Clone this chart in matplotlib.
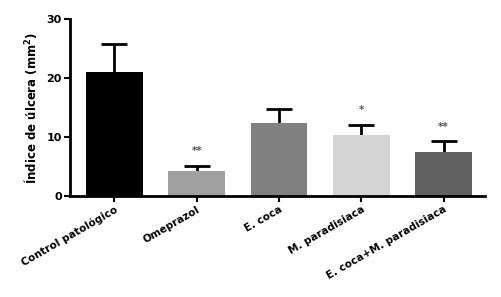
import matplotlib
matplotlib.use("Agg")
import matplotlib.pyplot as plt
import numpy as np

categories = ["Control patológico", "Omeprazol", "E. coca", "M. paradisiaca", "E. coca+M. paradisiaca"]
means = [21.1, 4.2, 12.4, 10.4, 7.4]
errors = [4.7, 0.95, 2.3, 1.7, 1.85]
signif = ["", "**", "", "*", "**"]
colors = ["#000000", "#a0a0a0", "#808080", "#d4d4d4", "#616161"]
yticks = [0, 10, 20, 30]

fig = plt.figure(figsize=(5.01, 2.97), dpi=100)
ax = fig.add_axes([0.1397, 0.34, 0.828, 0.596])
x = np.arange(len(categories))
ax.bar(x, means, width=0.69, color=colors, zorder=2)
eb = ax.errorbar(x, means, yerr=[np.zeros(len(means)), errors], fmt="none",
                 ecolor="black", elinewidth=2, capsize=9.5, capthick=2, zorder=1)
caplines = eb[1]
if len(caplines) >= 2:
    caplines[0].set_visible(False)
for xi, m, e, s in zip(x, means, errors, signif):
    if s:
        ax.text(xi, m + e + 1.6, s, ha="center", va="bottom", fontsize=7.5,
                color="#555555", fontweight="bold")
ax.set_xlim(-0.54, 4.5)
ax.set_ylim(0, 30)
ax.set_yticks(yticks)
ax.set_xticks(x)
ax.set_xticklabels(categories, rotation=30, ha="right", rotation_mode="anchor",
                   fontsize=7.5, fontweight="bold")
for lab in ax.get_yticklabels():
    lab.set_fontweight("bold")
    lab.set_fontsize(8)
ax.set_ylabel("Índice de úlcera (mm$^{\\mathbf{2}}$)", fontsize=8.5, fontweight="bold", labelpad=5)
for s in ["top", "right"]:
    ax.spines[s].set_visible(False)
for s in ["left", "bottom"]:
    ax.spines[s].set_linewidth(2)
ax.tick_params(axis="both", width=1.5, length=4, direction="out", pad=2)
fig.savefig("out.png", dpi=100)
